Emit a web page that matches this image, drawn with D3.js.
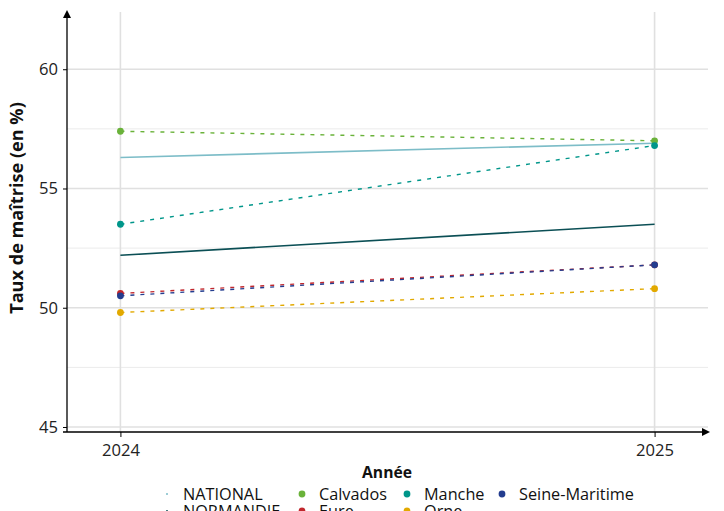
<!DOCTYPE html>
<html><head><meta charset="utf-8">
<script src="https://cdn.jsdelivr.net/npm/d3@7"></script>
<style>body{margin:0;background:#fff;} text{font-family:"Open Sans", sans-serif;}</style>
</head><body><svg id="c" width="724" height="511"></svg>
<script>
const years = [2024, 2025];
const yTicks = [45, 50, 55, 60];
const yMinor = [47.5, 52.5, 57.5];
const national = [56.3, 56.9];
const normandie = [52.2, 53.5];
const calvados = [57.4, 57.0];
const manche = [53.5, 56.8];
const eure = [50.6, 51.8];
const seineMaritime = [50.5, 51.8];
const orne = [49.8, 50.8];

const series = [
  {name:"NATIONAL", values:national, color:"#7dbdc8", type:"solid"},
  {name:"NORMANDIE", values:normandie, color:"#0b4f55", type:"solid"},
  {name:"Calvados", values:calvados, color:"#6ab23a", type:"dashed"},
  {name:"Eure", values:eure, color:"#c1272d", type:"dashed"},
  {name:"Manche", values:manche, color:"#00968a", type:"dashed"},
  {name:"Orne", values:orne, color:"#e2a900", type:"dashed"},
  {name:"Seine-Maritime", values:seineMaritime, color:"#233d8f", type:"dashed"}
];

const svg = d3.select("#c");
const x = d3.scaleLinear().domain([2023.9, 2025.1]).range([67, 708]);
const y = d3.scaleLinear().domain([44.79, 62.4]).range([432, 12]);

function fitSize(sel, w){ const n=sel.node(); const cur=n.getComputedTextLength(); const fs=parseFloat(sel.attr("font-size")); return fs*w/cur; }

// grid
const g = svg.append("g");
g.selectAll("line.min").data(yMinor).enter().append("line")
  .attr("x1", 67).attr("x2", 708).attr("y1", d=>y(d)).attr("y2", d=>y(d))
  .attr("stroke", "#ebebeb").attr("stroke-width", 1);
g.selectAll("line.maj").data(yTicks).enter().append("line")
  .attr("x1", 67).attr("x2", 708).attr("y1", d=>y(d)).attr("y2", d=>y(d))
  .attr("stroke", "#e0e0e0").attr("stroke-width", 1.6);
g.selectAll("line.vx").data(years).enter().append("line")
  .attr("x1", d=>x(d)).attr("x2", d=>x(d)).attr("y1", 12).attr("y2", 432)
  .attr("stroke", "#e0e0e0").attr("stroke-width", 1.6);

// lines
const line = d3.line().x((d,i)=>x(years[i])).y(d=>y(d));
series.forEach(s=>{
  svg.append("path").attr("d", line(s.values)).attr("fill","none")
    .attr("stroke", s.color).attr("stroke-width", s.type==="solid"?1.6:1.4)
    .attr("stroke-dasharray", s.type==="solid"?null:"4,6");
});
// points
series.filter(s=>s.type==="dashed").forEach(s=>{
  svg.selectAll(null).data(s.values).enter().append("circle")
    .attr("cx",(d,i)=>x(years[i])).attr("cy", d=>y(d)).attr("r", 3.4).attr("fill", s.color);
});

// axes
const yAxis = d3.axisLeft(y).tickValues(yTicks).tickSize(4).tickPadding(5);
const ya = svg.append("g").attr("transform","translate(67,0)").call(yAxis);
ya.attr("font-family", null).attr("font-size", null);
ya.select(".domain").remove();
ya.selectAll("line").attr("stroke","#000");
svg.append("line").attr("x1",67).attr("x2",67).attr("y1",432).attr("y2",16).attr("stroke","#000").attr("stroke-width",1.3);
svg.append("path").attr("d","M63,18 L67,10 L71,18 Z").attr("fill","#000");

const xAxis = d3.axisBottom(x).tickValues(years).tickFormat(d3.format("d")).tickSize(5).tickPadding(7);
const xa = svg.append("g").attr("transform","translate(0,432)").call(xAxis);
xa.attr("font-family", null).attr("font-size", null);
xa.select(".domain").remove();
xa.selectAll("line").attr("stroke","#000");
svg.append("line").attr("x1",63).attr("x2",704).attr("y1",432).attr("y2",432).attr("stroke","#000").attr("stroke-width",1.3);
svg.append("path").attr("d","M702,428 L710,432 L702,436 Z").attr("fill","#000");

const xt0 = xa.select("text").attr("font-size", 14);
const tickFs = fitSize(xt0, 38);
xa.selectAll("text").attr("font-size", tickFs).attr("fill","#222");
ya.selectAll("text").attr("font-size", tickFs).attr("fill","#222");

// titles
const yt = svg.append("text").attr("transform","translate(23,208) rotate(-90)").attr("text-anchor","middle")
  .attr("font-size",14).attr("font-weight","bold").attr("fill","#111").text("Taux de maîtrise (en %)");
yt.attr("font-size", fitSize(yt, 212));
const xt = svg.append("text").attr("x",387).attr("y",478).attr("text-anchor","middle")
  .attr("font-size",14).attr("font-weight","bold").attr("fill","#111").text("Année");
xt.attr("font-size", fitSize(xt, 50));

// legend
const cols = [[167,183],[302,319],[407,424],[502,519]];
const rows = [494, 511];
const legTexts = [];
series.forEach((s,i)=>{
  const c = cols[Math.floor(i/2)], cy = rows[i%2];
  if (s.type==="solid") {
    svg.append("line").attr("x1",c[0]-1).attr("x2",c[0]+1).attr("y1",cy).attr("y2",cy)
      .attr("stroke",s.color).attr("stroke-width",1.6);
  } else {
    svg.append("circle").attr("cx",c[0]).attr("cy",cy).attr("r",3.4).attr("fill",s.color);
  }
  legTexts.push(svg.append("text").attr("x", c[1]).attr("y", cy+5.5).attr("font-size",15)
    .attr("fill","#111").text(s.name));
});
const legFs = fitSize(legTexts[6], 115);
legTexts.forEach(t=>t.attr("font-size", legFs));
</script></body></html>
